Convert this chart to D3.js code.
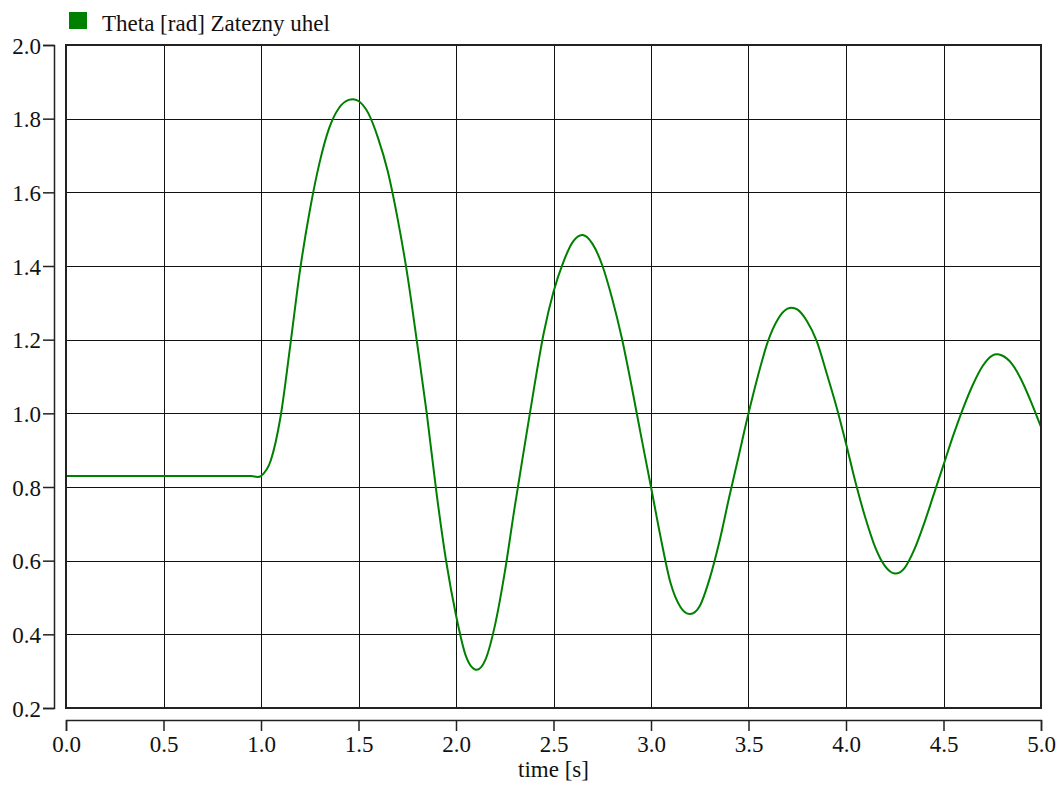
<!DOCTYPE html>
<html>
<head>
<meta charset="utf-8">
<script src="https://cdn.jsdelivr.net/npm/d3@7"></script>
<style>
  body { margin: 0; background: #fff; }
  text { font-family: "Liberation Serif", "Times New Roman", serif; fill: #111; }
</style>
</head>
<body>
<svg width="1061" height="785"></svg>
<script>
// values
const seriesName = "Theta [rad] Zatezny uhel";
const xTitle = "time [s]";
const time = [0.0, 0.5, 0.8, 0.85, 0.9, 0.95, 1.0, 1.05, 1.1, 1.15, 1.2, 1.25, 1.3, 1.35, 1.4, 1.45, 1.5, 1.55, 1.6,
  1.65, 1.7, 1.75, 1.8, 1.85, 1.9, 1.95, 2.0, 2.05, 2.1, 2.15, 2.2, 2.25, 2.3, 2.35, 2.4,
  2.45, 2.5, 2.55, 2.6, 2.65, 2.7, 2.75, 2.8, 2.85, 2.9, 2.95, 3.0, 3.05, 3.1, 3.15, 3.2,
  3.25, 3.3, 3.35, 3.4, 3.45, 3.5, 3.55, 3.6, 3.65, 3.7, 3.75, 3.8, 3.85, 3.9, 3.95, 4.0,
  4.05, 4.1, 4.15, 4.2, 4.25, 4.3, 4.35, 4.4, 4.45, 4.5, 4.55, 4.6, 4.65, 4.7, 4.75, 4.8,
  4.85, 4.9, 4.95, 5.0];
const theta = [0.83, 0.83, 0.83, 0.83, 0.83, 0.83, 0.83, 0.872, 0.99, 1.184, 1.388, 1.55, 1.68, 1.775, 1.829, 1.851, 1.848, 1.815, 1.748,
  1.657, 1.53, 1.378, 1.193, 1.0, 0.784, 0.597, 0.452, 0.342, 0.304, 0.33, 0.425, 0.568, 0.742, 0.906, 1.068,
  1.218, 1.33, 1.41, 1.466, 1.484, 1.46, 1.402, 1.313, 1.205, 1.075, 0.936, 0.8, 0.662, 0.54, 0.475, 0.455,
  0.477, 0.55, 0.65, 0.77, 0.885, 1.0, 1.105, 1.196, 1.255, 1.284, 1.282, 1.25, 1.196, 1.11, 1.02, 0.918,
  0.81, 0.715, 0.636, 0.585, 0.565, 0.58, 0.63, 0.70, 0.78, 0.86, 0.94, 1.013, 1.077, 1.128, 1.157, 1.157,
  1.135, 1.09, 1.03, 0.963];
const xTicks = [0, 0.5, 1, 1.5, 2, 2.5, 3, 3.5, 4, 4.5, 5];
const yTicks = [0.2, 0.4, 0.6, 0.8, 1.0, 1.2, 1.4, 1.6, 1.8, 2.0];

const plotL = 66, plotR = 1041, plotT = 45, plotB = 708;
const svg = d3.select("svg");

const x = d3.scaleLinear().domain([0, 5]).range([plotL, plotR]);
const y = d3.scaleLinear().domain([0.2, 2.0]).range([plotB, plotT]);

// grid
svg.append("g")
  .selectAll("line")
  .data(xTicks.slice(1, -1))
  .join("line")
  .attr("x1", d => Math.round(x(d)) + 0.5).attr("x2", d => Math.round(x(d)) + 0.5)
  .attr("y1", plotT).attr("y2", plotB)
  .attr("stroke", "#111").attr("stroke-width", 1);

svg.append("g")
  .selectAll("line")
  .data(yTicks.slice(1, -1))
  .join("line")
  .attr("x1", plotL).attr("x2", plotR)
  .attr("y1", d => Math.round(y(d)) + 0.5).attr("y2", d => Math.round(y(d)) + 0.5)
  .attr("stroke", "#111").attr("stroke-width", 1);

// curve
const pts = time.map((t, i) => [t, theta[i]]);
svg.append("path")
  .datum(pts)
  .attr("fill", "none")
  .attr("stroke", "#008000")
  .attr("stroke-width", 2)
  .attr("d", d3.line().x(d => x(d[0])).y(d => y(d[1])).curve(d3.curveCatmullRom.alpha(0)));

// frame
svg.append("rect")
  .attr("x", plotL).attr("y", plotT)
  .attr("width", plotR - plotL).attr("height", plotB - plotT)
  .attr("fill", "none").attr("stroke", "#222").attr("stroke-width", 2);

// y axis, detached to the left
const yAxis = svg.append("g")
  .attr("transform", "translate(54,0)")
  .call(d3.axisLeft(y).tickValues(yTicks).tickFormat(d3.format(".1f")).tickSize(11).tickPadding(2));
yAxis.select(".domain").attr("stroke", "#222").attr("stroke-width", 1.5);
yAxis.selectAll(".tick line").attr("stroke", "#222").attr("stroke-width", 1.5);
yAxis.selectAll("text").style("font-size", "23px").attr("fill", "#111").attr("dy", "0.36em");

// x axis, detached below
const xAxis = svg.append("g")
  .attr("transform", "translate(0,720)")
  .call(d3.axisBottom(x).tickValues(xTicks).tickFormat(d3.format(".1f")).tickSize(11).tickPadding(5));
xAxis.select(".domain").attr("stroke", "#222").attr("stroke-width", 1.5);
xAxis.selectAll(".tick line").attr("stroke", "#222").attr("stroke-width", 1.5);
xAxis.selectAll("text").style("font-size", "23px").attr("fill", "#111");

svg.append("text")
  .attr("x", (plotL + plotR) / 2).attr("y", 777)
  .attr("text-anchor", "middle")
  .style("font-size", "23px")
  .text(xTitle);

// legend
svg.append("rect")
  .attr("x", 69).attr("y", 12).attr("width", 18).attr("height", 17)
  .attr("fill", "#008000");
svg.append("text")
  .attr("x", 102).attr("y", 31)
  .style("font-size", "23px")
  .text(seriesName);
</script>
</body>
</html>
